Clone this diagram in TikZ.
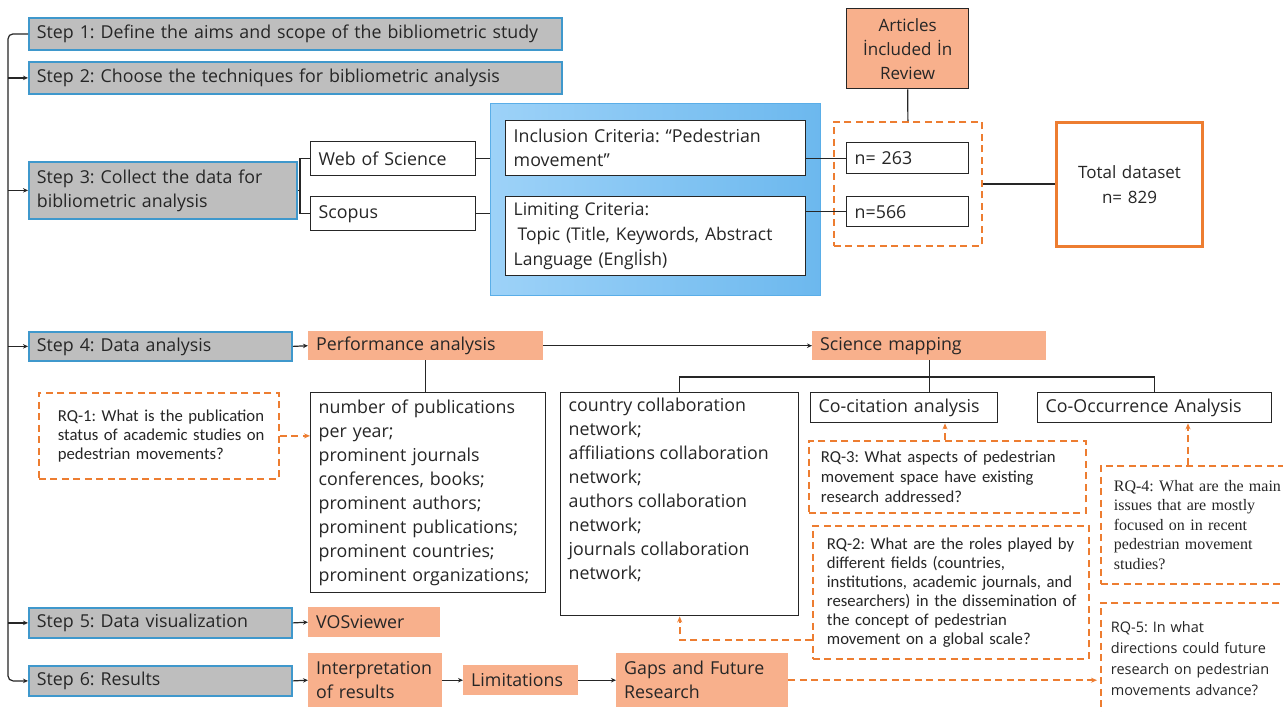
\documentclass[tikz,border=0pt]{standalone}
\usepackage{fontspec}
\setmainfont{Open Sans}
\newfontfamily\narrowf{Carlito}
\newfontfamily\serifrq{Liberation Serif}
\usetikzlibrary{arrows.meta}
\definecolor{stepfill}{HTML}{BEBEBE}
\definecolor{stepline}{HTML}{3F98CC}
\definecolor{salmon}{HTML}{F8B08C}
\definecolor{orng}{HTML}{ED7D31}
\definecolor{blueL}{HTML}{9DD2F8}
\definecolor{blueR}{HTML}{6CB8EE}
\definecolor{blueE}{HTML}{5AAEE8}
\definecolor{ink}{HTML}{262626}
\newcommand\kl[1]{\mbox{#1}}
\frenchspacing
\begin{document}
\begin{tikzpicture}[x=1pt,y=-1pt,
 every node/.style={anchor=north west, inner ysep=0pt, inner xsep=8pt, font=\fontsize{17.8}{24}\selectfont, text=ink},
 stepbox/.style={draw=stepline, fill=stepfill, line width=1.8pt, align=left},
 wbox/.style={draw=ink, fill=white, line width=1.4pt, align=left},
 sbox/.style={fill=salmon, align=left},
 rqbox/.style={draw=orng, dash pattern=on 7pt off 4.5pt, line width=1.8pt, align=left},
 conn/.style={draw=ink, line width=1.2pt},
 arr/.style={conn, -{Stealth[length=5pt,width=4.5pt]}},
 darr/.style={draw=orng, line width=1.8pt, dash pattern=on 7pt off 4.5pt, -{Stealth[length=6pt,width=5pt]}},
]
\useasboundingbox (0,0) rectangle (1283,712);
\fill[white] (0,0) rectangle (1283,712);

% Steps
\node[stepbox, text width=517pt, minimum height=32pt] (s1) at (28,17) {\kl{Step 1: Define the aims and scope of the bibliometric study}};
\node[stepbox, text width=517pt, minimum height=32pt] (s2) at (28,61) {\kl{Step 2: Choose the techniques for bibliometric analysis}};
\node[stepbox, text width=252pt, minimum height=57pt] (s3) at (28,161) {\kl{Step 3: Collect the data for}\\\kl{bibliometric analysis}};
\node[stepbox, text width=247pt, minimum height=29pt] (s4) at (28,331) {\kl{Step 4: Data analysis}};
\node[stepbox, text width=247pt, minimum height=30pt] (s5) at (28,607) {\kl{Step 5: Data visualization}};
\node[stepbox, text width=247pt, minimum height=30pt] (s6) at (28,665) {\kl{Step 6: Results}};

% Step 3 sources
\node[wbox, text width=149pt, minimum height=34pt] (wos) at (310,141) {\kl{Web of Science}};
\node[wbox, text width=149pt, minimum height=34pt] (sco) at (310,196) {\kl{Scopus}};
\node[draw=blueE, line width=1.2pt, left color=blueL, right color=blueR, minimum width=330pt, minimum height=192pt, inner sep=0pt] (blue) at (490,103) {};
\node[wbox, text width=284pt, minimum height=55pt] (incl) at (505,120) {\kl{Inclusion Criteria: “Pedestrian}\\\kl{movement”}};
\node[wbox, text width=284pt, minimum height=79pt, font=\fontsize{17.5}{25}\selectfont] (lim) at (505,196) {\kl{Limiting Criteria:}\\\kl{\hspace{4pt}Topic (Title, Keywords, Abstract}\\\kl{Language (Englİsh)}};

\node[draw=ink, line width=1.4pt, fill=salmon, text width=106pt, minimum height=80pt, align=center, font=\fontsize{17}{24}\selectfont] (art) at (846,8) {Articles\\İncluded İn\\Review};
\node[rqbox, minimum width=148pt, minimum height=124pt, inner sep=0pt] (dbox) at (833,121) {};
\node[wbox, text width=106pt, minimum height=31pt] (n263) at (846,142) {\kl{n= 263}};
\node[wbox, text width=106pt, minimum height=30pt] (n566) at (846,196) {\kl{n=566}};
\node[draw=orng, line width=3pt, fill=white, text width=130pt, minimum height=124pt, align=center, font=\fontsize{17}{25}\selectfont] (total) at (1055,121) {Total dataset\\n= 829};

% Step 4
\node[sbox, text width=219pt, minimum height=29pt] (perf) at (308,331) {\kl{Performance analysis}};
\node[sbox, text width=218pt, minimum height=29pt] (sci) at (812,331) {\kl{Science mapping}};
\node[wbox, text width=219pt, minimum height=200pt, font=\fontsize{17.8}{24}\selectfont] (list1) at (310,392) {\kl{number of publications}\\\kl{per year;}\\\kl{prominent journals}\\\kl{conferences, books;}\\\kl{prominent authors;}\\\kl{prominent publications;}\\\kl{prominent countries;}\\\kl{prominent organizations;}};
\node[wbox, inner ysep=5pt, font=\fontsize{17.8}{24}\selectfont] (list2) at (560,392) {\parbox[t][213pt][t]{222pt}{\raggedright\kl{country collaboration}\\\kl{network;}\\\kl{affiliations collaboration}\\\kl{network;}\\\kl{authors collaboration}\\\kl{network;}\\\kl{journals collaboration}\\\kl{network;}}};
\node[wbox, text width=171pt, minimum height=30pt] (cocit) at (810,392) {\kl{Co-citation analysis}};
\node[wbox, text width=218pt, minimum height=30pt] (cooc) at (1037,392) {\kl{Co-Occurrence Analysis}};

% Research questions
\node[rqbox, inner xsep=19pt, text width=202pt, minimum height=86pt, font=\narrowf\fontsize{16.7}{19}\selectfont] (rq1) at (38,392) {\kl{RQ-1: What is the publication}\\\kl{status of academic studies on}\\\kl{pedestrian movements?}};
\node[rqbox, inner xsep=12pt, text width=253pt, minimum height=72pt, font=\narrowf\fontsize{16.7}{20}\selectfont] (rq3) at (808,440) {\kl{RQ-3: What aspects of pedestrian}\\\kl{movement space have existing}\\\kl{research addressed?}};
\node[rqbox, inner xsep=13pt, text width=174pt, minimum height=118pt, font=\serifrq\fontsize{16}{19.5}\selectfont] (rq4) at (1100,465) {\kl{RQ-4: What are the main}\\\kl{issues that are mostly}\\\kl{focused on in recent}\\\kl{pedestrian movement}\\\kl{studies?}};
\node[rqbox, inner xsep=14pt, text width=248pt, minimum height=133pt, font=\narrowf\fontsize{16.7}{19}\selectfont] (rq2) at (812,525) {\kl{RQ-2: What are the roles played by}\\\kl{different fields (countries,}\\\kl{institutions, academic journals, and}\\\kl{researchers) in the dissemination of}\\\kl{the concept of pedestrian}\\\kl{movement on a global scale?}};
\node[rqbox, inner xsep=10pt, text width=180pt, minimum height=112pt, font=\fontsize{14.5}{21}\selectfont] (rq5) at (1100,602) {\kl{RQ-5: In what}\\\kl{directions could future}\\\kl{research on pedestrian}\\\kl{movements advance?}};

% Steps 5 and 6
\node[sbox, text width=116pt, minimum height=30pt] (vos) at (308,607) {\kl{VOSviewer}};
\node[sbox, text width=118pt, minimum height=54pt] (interp) at (308,653) {\kl{Interpretation}\\\kl{of results}};
\node[sbox, text width=99pt, minimum height=30pt] (limit) at (463,665) {\kl{Limitations}};
\node[sbox, text width=156pt, minimum height=54pt] (gaps) at (616,653) {\kl{Gaps and Future}\\\kl{Research}};

% Connectors
\coordinate (sp) at (8,0);
\draw[arr, rounded corners=5pt] (s1.west) -| (sp |- s6.west) -- (s6.west);
\foreach \n in {s2,s3,s4,s5} \draw[arr] (sp |- \n.west) -- (\n.west);

\coordinate (br) at (300,0);
\draw[conn] (s3.east) -- (br |- s3.east);
\draw[conn] (wos.west) -| (br |- sco.west) -- (sco.west);
\draw[conn] (wos.east) -- (wos.east -| blue.west);
\draw[conn] (sco.east) -- (sco.east -| blue.west);
\draw[conn] (n263.west -| incl.east) -- (n263.west);
\draw[conn] (n566.west -| lim.east) -- (n566.west);
\draw[conn] (art.south) -- (dbox.north);
\draw[conn] (dbox.east) -- (dbox.east -| total.west);

\draw[arr] (s4.east) -- (perf.west);
\draw[arr] (perf.east) -- (sci.west);
\draw[conn] (perf.south) -- (perf.south |- list1.north);
\draw[conn] (sci.south) -- (sci.south |- cocit.north);
\draw[conn] (list2.north) -- ++(0,-15) -| (cooc.north);

\draw[darr] (rq1.east) -- (rq1.east -| list1.west);
\coordinate (a3) at (945,0);
\draw[darr] (a3 |- rq3.north) -- (a3 |- cocit.south);
\coordinate (a4) at (1188,0);
\draw[darr] (a4 |- rq4.north) -- (a4 |- cooc.south);
\coordinate (a2) at (0,640);
\draw[darr] (rq2.west |- a2) -| (list2.south);
\draw[darr, shorten >=3pt] (gaps.east) -- (gaps.east -| rq5.west);

\draw[arr] (s5.east) -- (vos.west);
\draw[arr] (s6.east) -- (interp.west);
\draw[arr] (interp.east) -- (limit.west);
\draw[arr] (limit.east) -- (gaps.west);
\end{tikzpicture}
\end{document}
